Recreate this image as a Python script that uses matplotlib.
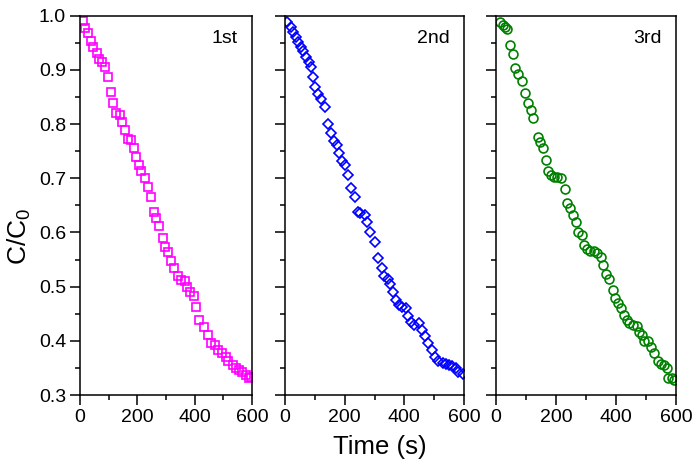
import matplotlib
matplotlib.use("Agg")
import matplotlib.pyplot as plt
from matplotlib.ticker import MultipleLocator

plt.rcParams['font.family'] = ['Liberation Sans', 'DejaVu Sans']
plt.rcParams['mathtext.fontset'] = 'custom'
plt.rcParams['mathtext.rm'] = 'Liberation Sans'

# ---- data ----
t1 = [9, 17, 29, 37, 46, 58, 67, 77, 88, 98, 108, 115, 127, 139, 147, 158, 168, 179,
      187, 197, 206, 214, 225, 237, 249, 258, 266, 275, 289, 297, 306, 318, 327, 341,
      353, 367, 373, 385, 396, 405, 416, 431, 445, 457, 472, 482, 497, 509, 518, 532,
      543, 555, 566, 578, 590, 598]
c1 = [0.991, 0.977, 0.968, 0.954, 0.943, 0.932, 0.921, 0.915, 0.906, 0.886, 0.860,
      0.838, 0.820, 0.817, 0.803, 0.789, 0.772, 0.771, 0.755, 0.740, 0.725, 0.714,
      0.701, 0.683, 0.665, 0.638, 0.626, 0.611, 0.589, 0.574, 0.563, 0.548, 0.534,
      0.520, 0.512, 0.511, 0.499, 0.491, 0.482, 0.463, 0.439, 0.426, 0.411, 0.396,
      0.392, 0.383, 0.377, 0.371, 0.362, 0.356, 0.349, 0.346, 0.343, 0.337, 0.331,
      0.334]

t2 = [8, 19, 28, 37, 44, 53, 61, 70, 79, 87, 94, 100, 111, 119, 133, 144, 153, 163,
      174, 181, 192, 202, 211, 222, 233, 244, 253, 267, 276, 286, 303, 313, 324, 333,
      344, 353, 363, 372, 381, 392, 405, 411, 422, 433, 450, 459, 469, 480, 492, 503,
      514, 528, 539, 550, 561, 572, 581, 595]
c2 = [0.989, 0.980, 0.970, 0.961, 0.952, 0.943, 0.934, 0.924, 0.915, 0.906, 0.887,
      0.868, 0.856, 0.846, 0.831, 0.801, 0.783, 0.768, 0.761, 0.746, 0.731, 0.725,
      0.706, 0.682, 0.666, 0.638, 0.635, 0.632, 0.620, 0.601, 0.583, 0.552, 0.534,
      0.520, 0.515, 0.505, 0.491, 0.475, 0.466, 0.463, 0.460, 0.445, 0.435, 0.429,
      0.432, 0.420, 0.408, 0.396, 0.383, 0.371, 0.362, 0.359, 0.357, 0.356, 0.354,
      0.349, 0.343, 0.338]

t3 = [13, 22, 30, 38, 47, 56, 63, 74, 86, 97, 106, 116, 124, 139, 147, 156, 167, 174,
      183, 193, 204, 216, 230, 238, 247, 258, 267, 274, 286, 294, 304, 313, 328, 338,
      349, 358, 367, 377, 389, 397, 406, 417, 427, 436, 444, 458, 469, 477, 486, 493,
      508, 517, 527, 539, 549, 560, 569, 574, 586, 593]
c3 = [0.989, 0.983, 0.979, 0.975, 0.946, 0.929, 0.903, 0.892, 0.880, 0.858, 0.839,
      0.826, 0.812, 0.776, 0.766, 0.755, 0.734, 0.714, 0.706, 0.702, 0.703, 0.700,
      0.680, 0.655, 0.645, 0.632, 0.620, 0.601, 0.595, 0.577, 0.569, 0.565, 0.565,
      0.562, 0.555, 0.540, 0.523, 0.514, 0.493, 0.479, 0.469, 0.460, 0.448, 0.439,
      0.432, 0.429, 0.427, 0.417, 0.411, 0.399, 0.400, 0.389, 0.377, 0.362, 0.357,
      0.356, 0.349, 0.332, 0.331, 0.328]

labels = ['1st', '2nd', '3rd']
xticks = [0, 200, 400, 600]
yticks = [0.3, 0.4, 0.5, 0.6, 0.7, 0.8, 0.9, 1.0]

W, H = 697, 467
fig = plt.figure(figsize=(W / 100, H / 100), dpi=100)

bottom = (H - 395) / H
height = (395 - 15.7) / H
boxes = [(80, 172), (285, 179), (496, 180)]

series = [
    (t1, c1, 's', '#FF00FF', 6.0),
    (t2, c2, 'D', '#0000FF', 5.4),
    (t3, c3, 'o', '#008000', 6.4),
]

for i, ((x0, w), (t, c, mk, col, ms), lab) in enumerate(zip(boxes, series, labels)):
    ax = fig.add_axes([x0 / W, bottom, w / W, height])
    ax.plot(t, c, linestyle='none', marker=mk, markersize=ms,
            markerfacecolor='none', markeredgecolor=col, markeredgewidth=1.2,
            clip_on=True)
    ax.set_xlim(0, 600)
    ax.set_ylim(0.3, 1.0)
    ax.set_xticks(xticks)
    ax.set_yticks(yticks)
    ax.xaxis.set_minor_locator(MultipleLocator(100))
    ax.yaxis.set_minor_locator(MultipleLocator(0.05))
    ax.tick_params(which='major', direction='out', length=7, width=1.1,
                   labelsize=14, pad=3, top=False, right=False)
    ax.tick_params(which='minor', direction='out', length=3.5, width=1.1,
                   top=False, right=False)
    if i > 0:
        ax.tick_params(axis='y', which='both', labelleft=False)
    for sp in ax.spines.values():
        sp.set_linewidth(1.1)
    ax.text(1 - 14 / w, 1 - 27 / (395 - 15.7), lab, transform=ax.transAxes,
            ha='right', va='baseline', fontsize=14)

fig.text(380 / W, 1 - 447 / H, 'Time (s)', ha='center', va='center', fontsize=18.5)
fig.text(19 / W, 1 - 236 / H, r'C/C$_\mathregular{0}$', ha='center', va='center',
         rotation=90, fontsize=19)

fig.savefig('out.png', dpi=100)
